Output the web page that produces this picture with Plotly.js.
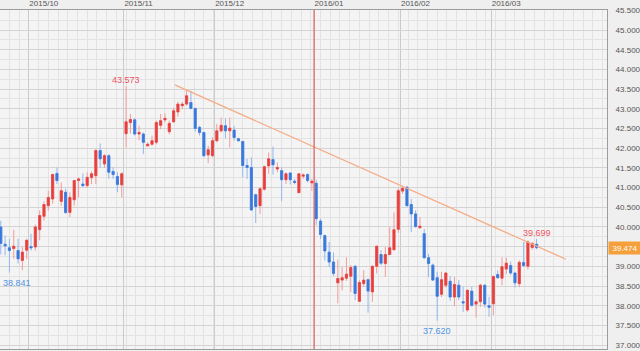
<!DOCTYPE html>
<html>
<head>
<meta charset="utf-8">
<script src="https://cdn.plot.ly/plotly-3.0.1.min.js"></script>
<style>html,body{margin:0;padding:0;background:#efefef;}#chart{width:640px;height:351px;}</style>
</head>
<body>
<div id="chart"></div>
<script>
// Daily candles, 2015/09/22 .. 2016/03/15 (index = trading day)
const openVals = [
40.00,39.56,39.47,39.45,39.40,39.15,39.41,39.50,39.49,39.93,
40.27,40.54,40.71,41.36,40.65,40.88,40.37,40.69,41.18,41.09,
41.05,41.25,41.30,41.94,41.60,41.81,41.41,41.28,41.07,42.37,
42.65,42.72,42.36,42.36,42.06,42.10,42.15,42.58,42.72,42.42,
42.67,42.92,43.08,43.12,43.16,43.01,42.53,42.40,41.83,41.81,
42.19,42.44,42.57,42.44,42.46,42.24,42.17,41.56,41.51,40.82,
40.54,40.96,41.55,41.71,41.47,41.43,41.20,41.37,41.16,40.87,
41.29,41.33,41.12,41.11,40.15,39.78,39.36,39.11,38.58,38.65,
38.70,38.75,39.00,38.11,38.56,38.66,38.35,39.00,39.30,39.07,
39.30,39.42,39.94,40.91,41.01,40.57,40.33,39.98,39.83,39.22,
39.03,38.71,38.29,38.52,38.62,38.22,38.52,38.10,37.89,38.37,
38.04,38.10,38.52,38.00,38.05,38.79,38.70,38.93,39.02,38.83,
38.56,39.10,39.00,39.48,39.56];
const highVals = [
40.16,39.78,39.70,39.93,39.70,39.49,39.70,39.83,40.06,40.42,
40.65,40.92,41.36,41.51,41.13,40.97,40.88,41.19,41.26,41.36,
41.39,41.41,41.98,42.12,41.85,41.85,41.51,41.39,41.39,43.573,
42.87,42.76,42.57,42.40,42.15,42.32,42.70,42.87,42.89,42.70,
43.03,43.18,43.18,43.47,43.46,43.03,42.57,42.41,42.06,42.28,
42.62,42.78,42.75,42.78,42.57,42.27,42.19,41.73,41.77,40.84,
41.01,41.56,41.89,42.04,41.64,41.51,41.39,41.39,41.22,41.36,
41.36,41.36,41.22,41.20,40.21,39.81,39.62,39.35,39.17,38.98,
39.23,39.03,39.03,38.65,38.90,38.69,39.03,39.53,39.41,39.49,
40.00,40.37,40.99,41.05,41.03,40.71,40.42,40.25,39.95,39.32,
39.07,38.86,38.86,38.86,38.75,38.73,38.65,38.48,38.42,38.48,
38.14,38.56,38.54,38.22,38.77,38.90,39.23,39.22,39.12,38.86,
39.15,39.62,39.66,39.62,39.699];
const lowVals = [
39.30,39.28,38.841,39.19,39.07,38.90,39.19,39.40,39.40,39.66,
40.16,40.42,40.59,41.09,40.54,40.33,40.25,40.54,40.75,41.01,
41.01,41.09,41.09,41.51,41.51,41.22,41.22,40.88,40.75,42.02,
42.37,42.32,42.20,41.85,42.04,42.06,42.10,42.48,42.65,42.35,
42.65,42.80,42.99,43.08,42.99,42.42,42.32,41.77,41.62,41.77,
42.15,42.40,42.25,42.02,42.19,42.17,41.26,41.22,40.42,40.10,
40.33,40.92,41.35,41.33,41.39,40.65,41.09,41.08,41.08,40.86,
41.22,41.13,40.92,40.05,39.70,39.15,38.98,38.75,38.06,38.39,
38.63,38.35,38.14,38.10,38.48,37.82,38.10,38.82,39.03,38.73,
39.28,39.41,39.85,40.84,40.52,39.87,39.98,39.95,39.19,38.73,
38.63,37.620,38.22,38.46,38.12,37.99,38.14,37.84,37.85,37.97,
37.70,37.97,37.96,37.72,37.76,38.69,38.52,38.80,38.78,38.46,
38.47,38.98,38.92,39.42,39.43];
const closeVals = [
39.58,39.52,39.40,39.51,39.19,39.36,39.66,39.47,40.00,40.29,
40.57,40.75,41.33,41.18,40.92,40.37,40.75,41.18,41.22,41.05,
41.26,41.35,41.94,41.73,41.81,41.39,41.33,41.08,41.35,42.67,
42.73,42.36,42.40,42.15,42.10,42.19,42.65,42.70,42.76,42.63,
42.95,43.12,43.12,43.33,43.01,42.50,42.40,41.81,41.96,42.19,
42.44,42.58,42.44,42.51,42.27,42.19,41.56,41.51,40.43,40.52,
40.97,41.53,41.73,41.58,41.51,41.20,41.35,41.20,41.13,41.35,
41.32,41.18,41.16,40.21,39.81,39.39,39.11,38.82,38.69,38.71,
38.80,38.97,38.31,38.59,38.65,38.37,39.00,39.51,39.08,39.30,
39.47,39.93,40.92,40.98,40.54,40.33,40.01,40.02,39.22,39.07,
38.65,38.24,38.66,38.83,38.22,38.54,38.22,38.07,38.39,38.01,
38.10,38.52,38.04,37.96,38.74,38.71,38.99,39.08,38.83,38.58,
39.10,39.02,39.62,39.58,39.474];

// Month boundaries (between last day of previous month and first day of month)
const monthLabels = ['2015/10','2015/11','2015/12','2016/01','2016/02','2016/03'];
const monthTickIdx = [6.5, 28.5, 49.5, 72.5, 92.5, 113.5];
const yearChangeIdx = 72.5;

// Price axis ticks
const priceTicks = [37.0,37.5,38.0,38.5,39.0,39.5,40.0,40.5,41.0,41.5,42.0,42.5,43.0,43.5,44.0,44.5,45.0,45.5];

// Trend line (two anchor points)
const trendX = [40.3, 130.8];
const trendY = [43.61, 39.18];

// Marked highs / lows: [candle index, which]
const marks = [[29,'high'],[2,'low'],[101,'low'],[124,'high']];

const idx = openVals.map((_, i) => i);
const bodyHigh = openVals.map((o, i) => Math.max(o, closeVals[i]));
const bodyLow = openVals.map((o, i) => Math.min(o, closeVals[i]));
const last = closeVals[closeVals.length - 1];

const UP = '#e5403e', UPW = '#f29c9a', DN = '#3a78da', DNW = '#93b6ee';

const wicks = {
  type: 'candlestick', x: idx, open: openVals, high: highVals, low: lowVals, close: closeVals,
  increasing: {line: {color: UPW, width: 1}, fillcolor: UPW},
  decreasing: {line: {color: DNW, width: 1}, fillcolor: DNW},
  whiskerwidth: 0, hoverinfo: 'skip'
};
const bodies = {
  type: 'candlestick', x: idx, open: openVals, high: bodyHigh, low: bodyLow, close: closeVals,
  increasing: {line: {color: UP, width: 0.6}, fillcolor: UP},
  decreasing: {line: {color: DN, width: 0.6}, fillcolor: DN},
  whiskerwidth: 0, hoverinfo: 'skip'
};
const trend = {
  type: 'scatter', mode: 'lines', x: trendX, y: trendY,
  line: {color: '#f6ac86', width: 1.3}, hoverinfo: 'skip'
};

const FONT = 'Liberation Sans, DejaVu Sans, sans-serif';
const annotations = marks.map(([i, kind]) => {
  const isHigh = kind === 'high';
  const v = isHigh ? highVals[i] : lowVals[i];
  return {
    x: i, y: v, xref: 'x', yref: 'y', text: v.toFixed(3), showarrow: false,
    xanchor: i < 5 ? 'left' : 'center', yanchor: isHigh ? 'bottom' : 'top', yshift: isHigh ? -1 : -3,
    xshift: i < 5 ? -8 : 0,
    font: {family: FONT, size: 9, color: isHigh ? '#ee5466' : '#4f93e6'}
  };
});
annotations.push({
  x: 1, xref: 'paper', xanchor: 'left', xshift: 1, y: last, yref: 'y', yanchor: 'middle',
  text: last.toFixed(3), showarrow: false, bgcolor: '#f5a03a', width: 30, height: 10, borderpad: 1,
  font: {family: FONT, size: 8, color: '#ffffff'}
});

// hide the tick label hidden behind the current-price box
const priceTickText = priceTicks.map(v => Math.abs(v - last) < 0.2 ? '' : v.toFixed(3));

const layout = {
  width: 640, height: 351,
  margin: {l: 0, r: 33, t: 10, b: 2, pad: 0},
  paper_bgcolor: '#efefef', plot_bgcolor: '#f4f4f4',
  showlegend: false, hovermode: false,
  xaxis: {
    type: 'linear', range: [-0.18, 140.3], side: 'top',
    tickmode: 'array', tickvals: monthTickIdx, ticktext: monthLabels,
    ticks: '', ticklabelposition: 'outside right', ticklabelstandoff: 0,
    tickfont: {family: FONT, size: 8, color: '#555555'},
    showgrid: true, gridcolor: '#cbcbcb', gridwidth: 1,
    minor: {tickmode: 'linear', tick0: 6.5, dtick: 2.25, showgrid: true, gridcolor: '#e3e3e3', gridwidth: 1},
    showline: true, linecolor: '#9c9c9c', linewidth: 1, mirror: true,
    zeroline: false, rangeslider: {visible: false}, fixedrange: true
  },
  yaxis: {
    side: 'right', range: [36.9, 45.51],
    tickmode: 'array', tickvals: priceTicks, ticktext: priceTickText,
    ticks: '', ticklabelstandoff: 6,
    tickfont: {family: FONT, size: 8, color: '#555555'},
    showgrid: true, gridcolor: '#d4d4d4', gridwidth: 1,
    minor: {tickmode: 'linear', tick0: 37, dtick: 0.25, showgrid: true, gridcolor: '#e3e3e3', gridwidth: 1},
    showline: true, linecolor: '#9c9c9c', linewidth: 1, mirror: true,
    zeroline: false, fixedrange: true
  },
  shapes: [{
    type: 'line', xref: 'x', yref: 'paper', x0: yearChangeIdx, x1: yearChangeIdx, y0: 0, y1: 1,
    line: {color: '#e84a4a', width: 1}
  }],
  annotations: annotations
};

Plotly.newPlot('chart', [wicks, bodies, trend], layout, {staticPlot: true, displayModeBar: false});
</script>
</body>
</html>
